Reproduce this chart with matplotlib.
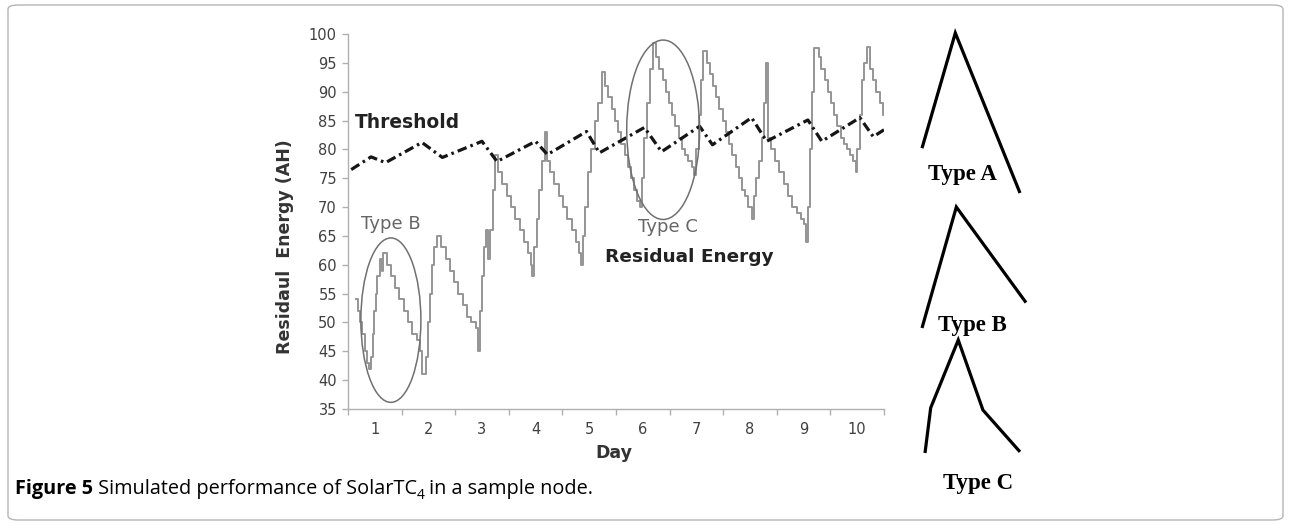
import matplotlib
matplotlib.use("Agg")
import matplotlib.pyplot as plt
from matplotlib.patches import Ellipse, FancyBboxPatch

# ---------------- data ----------------
days = [1, 2, 3, 4, 5, 6, 7, 8, 9, 10]
y_ticks = [35, 40, 45, 50, 55, 60, 65, 70, 75, 80, 85, 90, 95, 100]

res_day = [0.65, 0.69, 0.73, 0.77, 0.81, 0.85, 0.89, 0.93, 0.96, 0.99, 1.02, 1.05, 1.09, 1.13, 1.16,
           1.22, 1.30, 1.38, 1.46, 1.54, 1.62, 1.70, 1.78, 1.84, 1.88, 1.96, 1.99, 2.03, 2.07, 2.11,
           2.16, 2.24, 2.32, 2.40, 2.48, 2.56, 2.64, 2.72, 2.80, 2.88, 2.93, 2.96, 3.00, 3.04, 3.08,
           3.12, 3.15, 3.20, 3.25, 3.30, 3.38, 3.46, 3.54, 3.62, 3.70, 3.78, 3.86, 3.91, 3.94, 3.97,
           4.02, 4.07, 4.12, 4.17, 4.22, 4.27, 4.35, 4.43, 4.51, 4.59, 4.67, 4.75, 4.81, 4.85, 4.88,
           4.93, 4.98, 5.04, 5.10, 5.17, 5.24, 5.30, 5.36, 5.42, 5.48, 5.54, 5.60, 5.66, 5.72, 5.78,
           5.84, 5.90, 5.94, 5.98, 6.03, 6.08, 6.13, 6.19, 6.25, 6.31, 6.37, 6.43, 6.49, 6.55, 6.61,
           6.67, 6.73, 6.79, 6.85, 6.91, 6.96, 7.00, 7.05, 7.09, 7.13, 7.19, 7.25, 7.31, 7.37, 7.43,
           7.49, 7.55, 7.61, 7.67, 7.73, 7.79, 7.85, 7.91, 7.97, 8.03, 8.07, 8.12, 8.17, 8.22, 8.27,
           8.30, 8.33, 8.39, 8.47, 8.55, 8.63, 8.71, 8.79, 8.87, 8.95, 9.01, 9.05, 9.08, 9.12, 9.16,
           9.20, 9.28, 9.33, 9.39, 9.45, 9.51, 9.57, 9.63, 9.69, 9.75, 9.81, 9.87, 9.93, 9.97, 10.00,
           10.05, 10.09, 10.13, 10.18, 10.24, 10.30, 10.36, 10.42, 10.48, 10.52]
res_val = [54, 52, 50, 48, 45, 43, 42, 44, 48, 52, 55, 58, 61, 59, 62,
           60, 58, 56, 54, 52, 50, 48, 47, 45, 41, 44, 50, 55, 60, 63,
           65, 63, 61, 59, 57, 55, 53, 51, 50, 49, 45, 52, 58, 63, 66,
           61, 66, 73, 79, 76, 74, 72, 70, 68, 66, 64, 62, 60, 58, 63,
           68, 73, 78, 83, 78, 76, 74, 72, 70, 68, 66, 64, 62, 60, 65,
           70, 76, 80, 85, 88, 93.5, 91, 89, 87, 85, 83, 81, 79, 77, 75,
           73, 71, 70, 75, 82, 88, 94, 98.5, 96, 94, 92, 90, 88, 86, 84,
           82, 80, 79, 78, 77, 75.5, 80, 86, 92, 97, 95, 93, 91, 89, 87,
           85, 83, 81, 79, 77, 75, 73, 72, 70, 68, 72, 75, 78, 82, 88,
           95, 82, 80, 78, 76, 74, 72, 70, 69, 68, 67, 64, 70, 80, 90,
           97.5, 96, 94, 92, 90, 88, 86, 84, 82, 81, 80, 79, 78, 76, 80,
           86, 92, 95, 97.8, 94, 92, 90, 88, 86, 84]

thr_day = [0.56, 0.93, 1.20, 1.88, 2.26, 3.00, 3.28, 4.00, 4.22, 4.95, 5.19, 6.03, 6.35,
           7.06, 7.30, 8.03, 8.31, 9.08, 9.34, 10.05, 10.30, 10.50]
thr_val = [76.5, 78.7, 77.7, 81.2, 78.6, 81.4, 77.9, 81.4, 79.1, 83.1, 79.4, 83.8, 79.6,
           84.0, 80.8, 85.5, 81.4, 85.1, 81.4, 85.5, 82.2, 83.4]

# schematic peak shapes (relative time, relative energy)
typeA_t = [0.0, 0.34, 1.0]
typeA_e = [0.28, 1.0, 0.0]
typeB_t = [0.0, 0.33, 1.0]
typeB_e = [0.0, 1.0, 0.21]
typeC_t = [0.0, 0.06, 0.35, 0.61, 1.0]
typeC_e = [0.0, 0.40, 1.0, 0.38, 0.01]

assert len(res_day) == len(res_val)
assert len(thr_day) == len(thr_val)

W, H = 1291, 525
fig = plt.figure(figsize=(W / 100, H / 100), dpi=100)
fig.patch.set_facecolor("white")

# border
border = FancyBboxPatch((8 / W, 5 / H), (1283 - 8) / W, (520 - 5) / H,
                        boxstyle="round,pad=0,rounding_size=0.008",
                        transform=fig.transFigure, facecolor="none",
                        edgecolor="#b5b5b5", lw=1.0)
fig.patches.append(border)

def fx(px):
    return px / W

def fy(py):
    return 1 - py / H

ax = fig.add_axes([fx(348), fy(409), fx(884) - fx(348), fy(34) - fy(409)])
ax.set_xlim(0.5, 10.5)
ax.set_ylim(35, 100)

ax.plot(res_day, res_val, drawstyle="steps-post", color="#959595", lw=1.4, zorder=2)
ax.plot(thr_day, thr_val, color="#151515", lw=2.3, linestyle=(0, (3, 1.3, 0.8, 1.3)),
        zorder=3)

ax.add_patch(Ellipse((1.30, 50.4), 1.12, 28.5, facecolor="none", edgecolor="#707070", lw=1.1, zorder=4))
ax.add_patch(Ellipse((6.38, 83.4), 1.36, 31.1, facecolor="none", edgecolor="#707070", lw=1.1, zorder=4))

ax.text(1.30, 67.0, "Type B", color="#666666", fontsize=13, ha="center", va="center")
ax.text(6.46, 66.5, "Type C", color="#666666", fontsize=13, ha="center", va="center")
ax.text(6.86, 61.3, "Residual Energy", color="#222222", fontsize=13.3, fontweight="bold",
        ha="center", va="center")
ax.text(1.60, 84.6, "Threshold", color="#222222", fontsize=13.4, fontweight="bold",
        ha="center", va="center")

for s in ["top", "right"]:
    ax.spines[s].set_visible(False)
for s in ["left", "bottom"]:
    ax.spines[s].set_color("#b0b0b0")
    ax.spines[s].set_linewidth(1.0)

ax.set_yticks(y_ticks)
ax.set_yticklabels([str(v) for v in y_ticks])
ax.set_xticks(days)
ax.set_xticklabels([str(d) for d in days])
ax.set_xticks([d - 0.5 for d in days] + [10.5], minor=True)
ax.tick_params(axis="y", direction="out", length=4, width=1, color="#b0b0b0",
               labelsize=10.5, labelcolor="#404040", pad=4)
ax.tick_params(axis="x", which="major", length=0, labelsize=10.5, labelcolor="#404040", pad=9)
ax.tick_params(axis="x", which="minor", direction="out", length=4, width=1, color="#b0b0b0")

fig.text(fx(614), fy(453), "Day", fontsize=12.5, fontweight="bold", color="#333333",
         ha="center", va="center")
fig.text(fx(285), fy(247), "Residaul  Energy (AH)", fontsize=12.5, fontweight="bold",
         color="#333333", rotation=90, ha="center", va="center")

# schematic panels
def shape_axes(x0, y0, x1, y1, t, e):
    a = fig.add_axes([fx(x0), fy(y1), fx(x1) - fx(x0), fy(y0) - fy(y1)])
    a.set_xlim(0, 1)
    a.set_ylim(0, 1)
    a.axis("off")
    a.plot(t, e, color="black", lw=2.3, clip_on=False, solid_capstyle="butt",
           solid_joinstyle="miter")
    return a

shape_axes(922, 33, 1020, 193, typeA_t, typeA_e)
shape_axes(922, 207, 1026, 328, typeB_t, typeB_e)
shape_axes(925, 340, 1020, 453, typeC_t, typeC_e)

serif = ["Liberation Serif", "DejaVu Serif"]
fig.text(fx(962), fy(175), "Type A", family=serif, fontsize=16.5, fontweight="bold",
         ha="center", va="center")
fig.text(fx(972), fy(325), "Type B", family=serif, fontsize=16.5, fontweight="bold",
         ha="center", va="center")
fig.text(fx(978), fy(483), "Type C", family=serif, fontsize=16.5, fontweight="bold",
         ha="center", va="center")

# caption
cap_font = ["Open Sans", "DejaVu Sans"]
t1 = fig.text(fx(15), fy(494), "Figure 5", family=cap_font, fontsize=14.3, fontweight="bold",
              color="black", ha="left", va="baseline")
a2 = plt.annotate(" Simulated performance of SolarTC", xy=(1, 0), xycoords=t1,
                  family=cap_font, fontsize=14.3, color="black", ha="left", va="bottom",
                  annotation_clip=False)
a3 = plt.annotate("4", xy=(1, 0), xycoords=a2, xytext=(0, -3), textcoords="offset points",
                  family=cap_font, fontsize=10, color="black", ha="left", va="bottom",
                  annotation_clip=False)
a4 = plt.annotate(" in a sample node.", xy=(1, 0), xycoords=a3, xytext=(-1, 3),
                  textcoords="offset points", family=cap_font, fontsize=14.3, color="black",
                  ha="left", va="bottom", annotation_clip=False)

fig.savefig("out.png", dpi=100, facecolor="white")
